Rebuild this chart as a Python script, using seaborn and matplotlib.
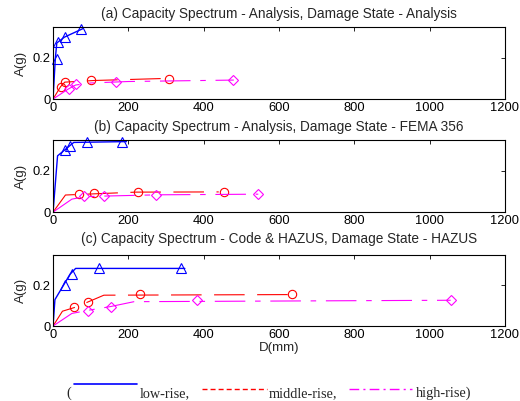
import matplotlib
matplotlib.use("Agg")
import matplotlib.pyplot as plt
import seaborn as sns
from matplotlib.lines import Line2D

sns.set_style("white")
plt.rcParams["font.family"] = ["Liberation Sans", "DejaVu Sans"]
plt.rcParams["font.size"] = 9
plt.rcParams["lines.scale_dashes"] = False

# ---- (a) Capacity Spectrum - Analysis, Damage State - Analysis
a_low_x = [0, 6, 10, 30, 80]
a_low_y = [0, 0.195, 0.272, 0.30, 0.342]
a_low_mx = [11, 13, 31, 75]
a_low_my = [0.194, 0.277, 0.30, 0.34]
a_mid_x = [0, 20, 31, 110, 300]
a_mid_y = [0, 0.06, 0.082, 0.09, 0.10]
a_mid_mx = [20, 31, 100, 309]
a_mid_my = [0.057, 0.083, 0.091, 0.099]
a_high_x = [0, 40, 60, 100, 200, 480]
a_high_y = [0, 0.048, 0.068, 0.078, 0.085, 0.092]
a_high_mx = [43, 62, 167, 478]
a_high_my = [0.049, 0.072, 0.083, 0.091]

# ---- (b) Capacity Spectrum - Analysis, Damage State - FEMA 356
b_low_x = [0, 12, 30, 55, 195]
b_low_y = [0, 0.273, 0.30, 0.338, 0.342]
b_low_mx = [31, 46, 91, 184]
b_low_my = [0.30, 0.32, 0.342, 0.342]
b_mid_x = [0, 33, 100, 220, 440]
b_mid_y = [0, 0.083, 0.088, 0.097, 0.098]
b_mid_mx = [68, 110, 225, 453]
b_mid_my = [0.086, 0.091, 0.099, 0.098]
b_high_x = [0, 50, 85, 140, 280, 545]
b_high_y = [0, 0.063, 0.075, 0.078, 0.084, 0.087]
b_high_mx = [83, 136, 273, 544]
b_high_my = [0.076, 0.078, 0.085, 0.087]

# ---- (c) Capacity Spectrum - Code & HAZUS, Damage State - HAZUS
c_low_x = [0, 5, 45, 60, 350]
c_low_y = [0, 0.13, 0.255, 0.284, 0.284]
c_low_mx = [32, 50, 123, 339]
c_low_my = [0.20, 0.257, 0.284, 0.284]
c_mid_x = [0, 25, 60, 92, 135, 635]
c_mid_y = [0, 0.073, 0.093, 0.118, 0.152, 0.155]
c_mid_mx = [56, 92, 231, 634]
c_mid_my = [0.093, 0.117, 0.156, 0.156]
c_high_x = [0, 50, 95, 150, 215, 1056]
c_high_y = [0, 0.062, 0.078, 0.095, 0.12, 0.127]
c_high_mx = [93, 153, 383, 1056]
c_high_my = [0.075, 0.092, 0.127, 0.127]

titles = [
    "(a) Capacity Spectrum - Analysis, Damage State - Analysis",
    "(b) Capacity Spectrum - Analysis, Damage State - FEMA 356",
    "(c) Capacity Spectrum - Code & HAZUS, Damage State - HAZUS",
]
x_ticks = [0, 200, 400, 600, 800, 1000, 1200]
y_ticks = [0, 0.2]
y_ticklabels = ["0", "0.2"]

panels = [
    [(a_low_x, a_low_y, a_low_mx, a_low_my),
     (a_mid_x, a_mid_y, a_mid_mx, a_mid_my),
     (a_high_x, a_high_y, a_high_mx, a_high_my)],
    [(b_low_x, b_low_y, b_low_mx, b_low_my),
     (b_mid_x, b_mid_y, b_mid_mx, b_mid_my),
     (b_high_x, b_high_y, b_high_mx, b_high_my)],
    [(c_low_x, c_low_y, c_low_mx, c_low_my),
     (c_mid_x, c_mid_y, c_mid_mx, c_mid_my),
     (c_high_x, c_high_y, c_high_mx, c_high_my)],
]

# style per building type: colour, line style, width, marker, marker size
styles = [
    ("#0000ff", "-", 1.0, "^", 7),
    ("#ff0000", (0, (22, 9)), 0.8, "o", 6),
    ("#ff00ff", (0, (22, 7, 4, 7)), 0.8, "D", 5),
]

fig = plt.figure(figsize=(5.2, 4.01), dpi=100)
rects = [
    [0.102, 0.753, 0.869, 0.180],
    [0.102, 0.471, 0.869, 0.180],
    [0.102, 0.187, 0.869, 0.177],
]
pads = [6.5, 6.5, 8.6]

for i, rect in enumerate(rects):
    ax = fig.add_axes(rect)
    for (lx, ly, mx, my), (col, ls, lw, mk, ms) in zip(panels[i], styles):
        sns.lineplot(x=lx, y=ly, ax=ax, color=col, linestyle=ls, lw=lw,
                     estimator=None, sort=False)
        sns.lineplot(x=mx, y=my, ax=ax, color=col, linestyle="", marker=mk,
                     markersize=ms, markerfacecolor="none",
                     markeredgecolor=col, markeredgewidth=0.8,
                     estimator=None, sort=False, clip_on=False)
    ax.set_xlim(0, 1200)
    ax.set_ylim(0, 0.35)
    ax.set_xticks(x_ticks)
    ax.set_yticks(y_ticks)
    ax.set_yticklabels(y_ticklabels)
    ax.tick_params(direction="in", top=True, right=True, length=3,
                   width=0.6, labelsize=9.3, pad=2, colors="black")
    for sp in ax.spines.values():
        sp.set_visible(True)
        sp.set_color("black")
        sp.set_linewidth(0.8)
    ax.set_title(titles[i], fontsize=9.8, pad=pads[i])
    ax.set_ylabel("A(g)", fontsize=9.5, labelpad=4)
    if i == 2:
        ax.set_xlabel("D(mm)", fontsize=9.5, labelpad=1)
    else:
        ax.set_xlabel("")

# legend drawn as a text line below the panels
serif = ["Liberation Serif", "DejaVu Serif"]
fig.text(0.127, 0.01, "(", family=serif, fontsize=10.3, va="baseline")
fig.add_artist(Line2D([0.142, 0.263], [0.0424, 0.0424], color="#0000ff", lw=1.2,
                      transform=fig.transFigure))
fig.text(0.269, 0.01, "low-rise,", family=serif, fontsize=10.3, va="baseline")
fig.add_artist(Line2D([0.388, 0.513], [0.03, 0.03], color="#ff0000", lw=1.0,
                      linestyle=(0, (3.6, 2.2)), transform=fig.transFigure))
fig.text(0.517, 0.01, "middle-rise,", family=serif, fontsize=10.3, va="baseline")
fig.add_artist(Line2D([0.671, 0.792], [0.03, 0.03], color="#ff00ff", lw=1.0,
                      linestyle=(0, (7, 3, 1.5, 3)), transform=fig.transFigure))
fig.text(0.800, 0.01, "high-rise)", family=serif, fontsize=10.3, va="baseline")

fig.savefig("out.png", dpi=100)
